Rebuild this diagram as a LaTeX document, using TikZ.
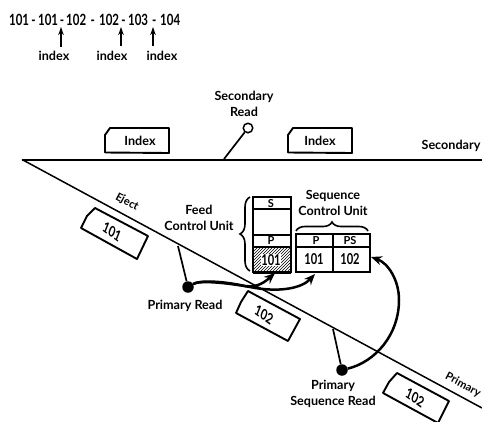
\documentclass[tikz,border=0pt]{standalone}
\usepackage{fontspec}
\setmainfont{Lato}[BoldFont={Lato Bold}]
\usetikzlibrary{arrows.meta,patterns,decorations.pathreplacing,calc}
\tikzset{
  lbl/.style={inner sep=0pt,font=\fontsize{12.6}{16.5}\selectfont\bfseries,align=center},
  num/.style={inner sep=0pt,xscale=.74,font=\fontsize{15}{17}\selectfont\bfseries},
  seqrow/.style={inner sep=0pt,anchor=base west,xscale=.74,font=\fontsize{15.5}{17}\selectfont\bfseries},
  small/.style={inner sep=0pt,font=\fontsize{11}{12}\selectfont\bfseries},
  card/.style={draw=black,line width=1.9pt,line join=round,fill=white},
  thinline/.style={draw=black,line width=1.7pt},
  box/.style={draw=black,line width=1.8pt},
  readdot/.style={circle,fill=black,inner sep=0pt,minimum size=11.5pt},
  flow/.style={draw=black,line width=2.5pt,-{Stealth[length=11pt,width=9pt]}},
  idx/.style={draw=black,line width=1.3pt,-{Stealth[length=8pt,width=5.5pt]}}
}
\begin{document}
\begin{tikzpicture}[x=1pt,y=-1pt]
\useasboundingbox (0,0) rectangle (482,421);
% sequence at top
\node[seqrow] (row) at (9,25.5) {101\kern3.2pt-\kern3.2pt101\kern2.6pt-\kern2.6pt102\kern5.9pt-\kern5.9pt102\kern3.2pt-\kern3.2pt103\kern5.3pt-\kern5.3pt104};
\node[lbl] (i1) at (54,56) {index};
\node[lbl] (i2) at (112,56) {index};
\node[lbl] (i3) at (162,56) {index};
\coordinate (a1) at (61,27); \coordinate (a2) at (121,27); \coordinate (a3) at (153,27);
\coordinate (b1) at (61,47); \coordinate (b2) at (121,46); \coordinate (b3) at (153,46);
\draw[idx] (b1) -- (a1);
\draw[idx] (b2) -- (a2);
\draw[idx] (b3) -- (a3);
% main lines
\coordinate (apex) at (22,159.5);
\coordinate (secEnd) at (482,159.5);
\coordinate (priEnd) at (482,408);
\draw[black,line width=2pt] (apex) -- (secEnd);
\draw[black,line width=1.5pt] (apex) -- (priEnd);
% index cards
\draw[card] (105,152.5) -- (105,135) -- (110,128) -- (169,128) -- (169,153) -- cycle;
\node[lbl] (ix1) at (140,141) {Index};
\draw[card] (288,152.5) -- (288,135) -- (293,128) -- (352,128) -- (352,153) -- cycle;
\node[lbl] (ix2) at (320,141) {Index};
\node[lbl] (secl) at (451,146) {Secondary};
% secondary read
\node[lbl] (sr) at (244,104) {Secondary\\Read};
\node[circle,draw=black,line width=1.5pt,fill=white,inner sep=0pt,minimum size=9.5pt] (srd) at (248,128) {};
\coordinate (srb) at (224,159);
\draw[thinline] (srb) -- (srd);
% cards on primary
\draw[card] (81,228) -- (87,216) -- (95,208) -- (148,236) -- (137,259) -- cycle;
\node[num,rotate=-28] at (112,232) {101};
\draw[card] (236,313) -- (241,302) -- (248,291) -- (300,319) -- (288,341) -- cycle;
\node[num,rotate=-28] at (264,315) {102};
\draw[card] (383,393) -- (389,382) -- (397,373) -- (449,401) -- (438,423) -- cycle;
\node[num,rotate=-28] at (415,398) {102};
\node[small,rotate=-28] at (127,202) {Eject};
\node[small,rotate=-28] at (463,385) {Primary};
% labels
\node[lbl] (fcu) at (199,218) {Feed\\Control Unit};
\node[lbl] (scu) at (333,203) {Sequence\\Control Unit};
\node[lbl] (prl) at (185,306) {Primary Read};
\node[lbl] (psl) at (333,394) {Primary\\Sequence Read};
% feed control unit
\draw[decorate,decoration={brace,amplitude=10pt},black,line width=1.6pt] (250,271) -- (250,197);
\fill[pattern=north east lines,pattern color=black] (253,247) rectangle (291,272);
\node[fill=white,inner sep=1pt,num] (f101) at (271,260) {101};
\node[box,minimum width=38pt,minimum height=75pt,inner sep=0pt] (feed) at (272,234.5) {};
\draw[box] (253,209) -- (291,209) (253,235) -- (291,235) (253,247) -- (291,247);
\draw[black,line width=3pt] (253,272) -- (291,272);
\node[small] at (271,203.5) {S};
\node[small] at (271,241) {P};
% sequence control unit
\node[box,minimum width=74pt,minimum height=38pt,inner sep=0pt] (seq) at (333,253) {};
\draw[box] (296,247) -- (370,247) (333,234) -- (333,272);
\node[small] at (316,241) {P};
\node[small] at (350,241) {PS};
\node[num] (q1) at (314,259.5) {101};
\node[num] (q2) at (350,259.5) {102};
\draw[decorate,decoration={brace,amplitude=9pt},black,line width=1.6pt] (296,231) -- (368,231);
% readers
\node[readdot] (d1) at (188,287) {};
\coordinate (t1) at (178,246);
\draw[thinline] (t1) -- (d1);
\node[readdot] (d2) at (342,370) {};
\coordinate (t2) at (333,329);
\draw[thinline] (t2) -- (d2);
% flow arrows
\coordinate (e1) at (275,273); \coordinate (e2) at (315,274); \coordinate (e3) at (371,257);
\draw[flow] (d1) .. controls (200,280) and (222,281) .. (245,286) .. controls (258,288) and (266,281) .. (e1);
\draw[flow] (d1) .. controls (200,280) and (228,283) .. (250,287) .. controls (280,293) and (302,288) .. (e2);
\draw[flow] (d2) .. controls (375,362) and (399,335) .. (399,300) .. controls (399,280) and (388,263) .. (e3);
\end{tikzpicture}
\end{document}
